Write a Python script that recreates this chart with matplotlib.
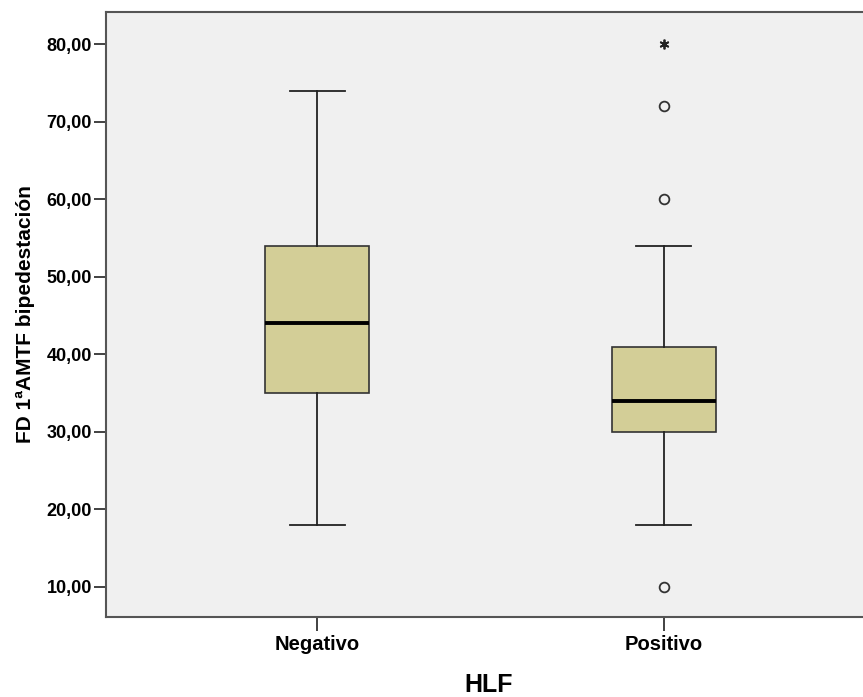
import matplotlib
matplotlib.use("Agg")
import matplotlib.pyplot as plt
from matplotlib.ticker import FixedLocator, FuncFormatter

groups = ["Negativo", "Positivo"]
whislo = [18, 18]
q1 = [35, 30]
med = [44, 34]
q3 = [54, 41]
whishi = [74, 54]
outliers = [[], [72, 60, 10]]
extremes = [[], [80]]
yticks = [10, 20, 30, 40, 50, 60, 70, 80]

plt.rcParams['font.family'] = ['Liberation Sans', 'DejaVu Sans']
fig = plt.figure(figsize=(8.63, 6.97), dpi=100)
ax_w = 1 - 106/863 + 0.01
ax = fig.add_axes([106/863, 80/697, ax_w, (617-12)/697])
ax.set_facecolor('#F0F0F0')

stats = []
for i, g in enumerate(groups):
    stats.append(dict(label=g, whislo=whislo[i], q1=q1[i], med=med[i], q3=q3[i],
                      whishi=whishi[i], fliers=outliers[i]))
positions = [1, 2]
ax.bxp(stats, positions=positions, widths=0.30, patch_artist=True, showfliers=True,
       boxprops=dict(facecolor='#D3CE97', edgecolor='#333333', linewidth=1.2),
       medianprops=dict(color='black', linewidth=2.8),
       whiskerprops=dict(color='#222222', linewidth=1.3),
       capprops=dict(color='#222222', linewidth=1.3),
       capwidths=0.16,
       flierprops=dict(marker='o', markerfacecolor='none', markeredgecolor='#333333',
                       markersize=7, markeredgewidth=1.3, linestyle='none'))
for i, ex in enumerate(extremes):
    if ex:
        ax.plot([positions[i]] * len(ex), ex, linestyle='none', marker=(6, 2, 0),
                markersize=7, color='#222222', markeredgewidth=1.3)

ax.set_xlim(0.39, 2.60)
ax.set_ylim(6.13, 84.13)
ax.yaxis.set_major_locator(FixedLocator(yticks))
ax.yaxis.set_major_formatter(FuncFormatter(lambda v, p: f"{v:.2f}".replace('.', ',')))
ax.set_xticks(positions)
ax.set_xticklabels(groups)
for lab in ax.get_yticklabels():
    lab.set_fontweight('bold')
    lab.set_fontsize(13)
for lab in ax.get_xticklabels():
    lab.set_fontweight('bold')
    lab.set_fontsize(14.5)
ax.tick_params(axis='y', direction='out', length=9, width=1.3, color='#333333', pad=1)
ax.tick_params(axis='x', direction='out', length=10, width=1.3, color='#333333', pad=3)
for s in ['left', 'bottom', 'top']:
    ax.spines[s].set_color('#555555')
    ax.spines[s].set_linewidth(1.5)
ax.spines['right'].set_visible(False)

ax.set_ylabel("FD 1ªAMTF bipedestación", fontsize=15, fontweight='bold')
ax.yaxis.set_label_coords((35 - 106) / (ax_w * 863), 0.5)
ax.set_xlabel("HLF", fontsize=18, fontweight='bold', labelpad=14)

fig.savefig("out.png", dpi=100)
